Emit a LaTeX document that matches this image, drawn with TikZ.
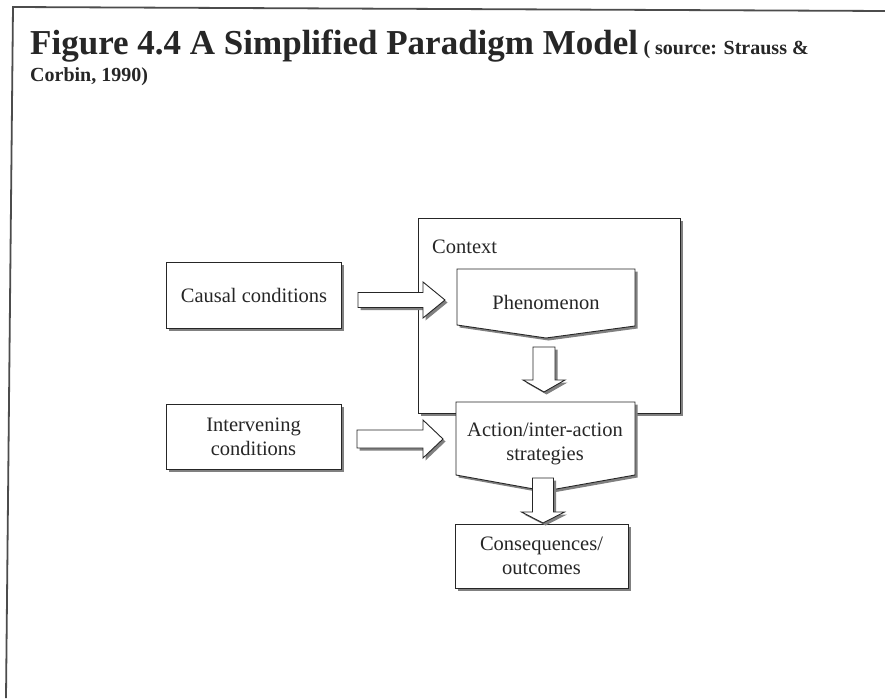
\documentclass[tikz,border=0pt]{standalone}
\usepackage{fontspec}
\setmainfont{Liberation Serif}
\usetikzlibrary{calc,shadows}

% horizontal block arrow: #1 tail point, #2 tip, #3 half body, #4 half head, #5 head length
\newcommand\blockarrowR[5]{%
  \path[arrowbox] ($(#1)+(0,-#3)$) -- ($(#2)+(-#5,-#3)$) -- ($(#2)+(-#5,-#4)$) -- (#2)
    -- ($(#2)+(-#5,#4)$) -- ($(#2)+(-#5,#3)$) -- ($(#1)+(0,#3)$) -- cycle;}
% downward block arrow, same arguments
\newcommand\blockarrowD[5]{%
  \path[arrowbox] ($(#1)+(-#3,0)$) -- ($(#2)+(-#3,-#5)$) -- ($(#2)+(-#4,-#5)$) -- (#2)
    -- ($(#2)+(#4,-#5)$) -- ($(#2)+(#3,-#5)$) -- ($(#1)+(#3,0)$) -- cycle;}

\begin{document}
\begin{tikzpicture}[x=1pt,y=-1pt,
  frameline/.style={draw=black!70, line width=1.8pt},
  boxshadow/.style={drop shadow={shadow xshift=2.5pt, shadow yshift=-2.5pt, fill=black!50, opacity=1}},
  plainbox/.style={draw=black!85, line width=0.9pt, fill=white, boxshadow},
  boxtext/.style={font=\fontsize{20.5}{24}\selectfont, align=center, inner sep=0pt, text=black!85},
  arrowbox/.style={draw=black!85, line width=0.9pt, fill=white, boxshadow, line join=miter}]
\useasboundingbox (0,0) rectangle (885,698);
\fill[white] (0,0) rectangle (885,698);

% page frame
\draw[frameline] (885,11) -- (13,7) -- (6,698);

% caption
\node[anchor=base west, inner sep=0pt, font=\bfseries\fontsize{35}{38}\selectfont, text=black!85]
  (title) at (30,55) {Figure 4.4 A Simplified Paradigm Model};
\node[anchor=base west, inner sep=0pt, font=\bfseries\fontsize{20}{24}\selectfont, text=black!85]
  (src) at ($(title.base east)+(5,0)$) {( source: Strauss \&};
\node[anchor=base west, inner sep=0pt, font=\bfseries\fontsize{20}{24}\selectfont, text=black!85]
  (src2) at (30,82) {Corbin, 1990)};

% context frame
\path[plainbox] (418,218) rectangle (680,413);
\node[boxtext, anchor=base west] (ctx) at (432,253) {Context};

% left-hand condition boxes
\node[plainbox, boxtext, minimum width=175pt, minimum height=66pt] (cause) at (254,295) {Causal conditions};
\node[plainbox, boxtext, minimum width=175pt, minimum height=65pt] (interv) at (253.5,436.5) {Intervening\\conditions};

% phenomenon
\path[plainbox] (457,269) -- (635,269) -- (635,326) -- (546,338) -- (457,325) -- cycle;
\node[boxtext] (phen) at (546,302) {Phenomenon};

% action/inter-action strategies
\path[plainbox] (456,402) -- (635,402) -- (635,475) -- (545,491) -- (456,475) -- cycle;
\node[boxtext] (act) at (545,444) {Action/inter-action\\strategies};

% consequences
\node[plainbox, boxtext, minimum width=173pt, minimum height=64pt] (cons) at (541.5,556) {Consequences/\\outcomes};

% block arrows
\coordinate (a1s) at (358,300);  \coordinate (a1e) at (445,300);
\coordinate (a2s) at (357,439);  \coordinate (a2e) at (443,439);
\coordinate (d1s) at (544,347);  \coordinate (d1e) at (544,392);
\coordinate (d2s) at (543,478);  \coordinate (d2e) at (543,523);
\blockarrowR{a1s}{a1e}{7.5}{18}{22}
\blockarrowR{a2s}{a2e}{9}{19}{20}
\blockarrowD{d1s}{d1e}{11}{21}{12}
\blockarrowD{d2s}{d2e}{10.5}{21.5}{11}
\end{tikzpicture}
\end{document}
